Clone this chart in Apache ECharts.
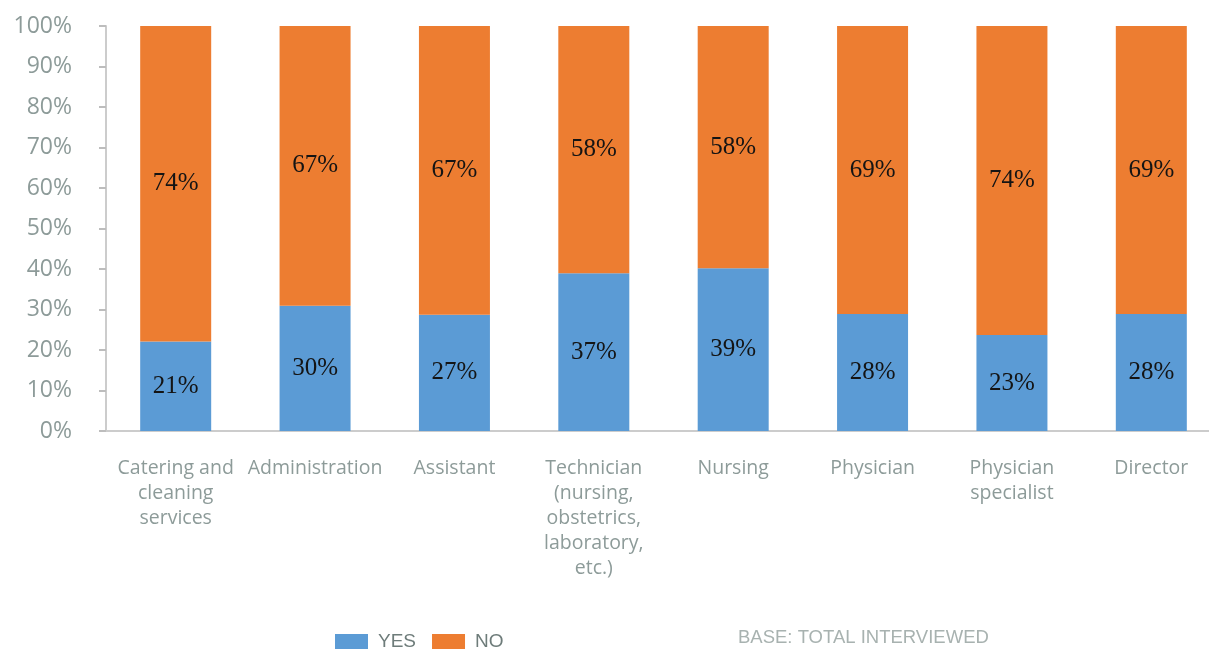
<!DOCTYPE html>
<html>
<head>
<meta charset="utf-8">
<script src="https://cdn.jsdelivr.net/npm/echarts@6/dist/echarts.min.js"></script>
<style>
  html, body { margin: 0; padding: 0; background: #fff; overflow: hidden; }
  /* the last column runs slightly past the right edge of the page */
  #chart { width: 1221px; height: 650px; }
</style>
</head>
<body>
<div id="chart"></div>
<script>
// Professional groups surveyed
const categories = [
  'Catering and\ncleaning\nservices',
  'Administration',
  'Assistant',
  'Technician\n(nursing,\nobstetrics,\nlaboratory,\netc.)',
  'Nursing',
  'Physician',
  'Physician\nspecialist',
  'Director'
];
// Reported shares (%)
const yesValues = [21, 30, 27, 37, 39, 28, 23, 28];
const noValues  = [74, 67, 67, 58, 58, 69, 74, 69];
const yTicks = [0, 10, 20, 30, 40, 50, 60, 70, 80, 90, 100];

// Bars are drawn as a 100% stack: each answer relative to YES + NO
const share = (v, i) => v / (yesValues[i] + noValues[i]) * 100;
const yesData = yesValues.map((v, i) => ({ value: share(v, i), raw: v }));
const noData  = noValues.map((v, i) => ({ value: share(v, i), raw: v }));

const axisGrey = '#8d9b99';
const labelStyle = {
  show: true,
  position: 'inside',
  formatter: p => p.data.raw + '%',
  fontFamily: '"Liberation Serif", "Times New Roman", serif',
  fontSize: 25,
  color: '#141414'
};

const chart = echarts.init(document.getElementById('chart'), null, { renderer: 'canvas' });
chart.setOption({
  animation: false,
  backgroundColor: '#ffffff',
  grid: { left: 106, top: 26, right: 0, bottom: 219, containLabel: false },
  legend: {
    left: 330,
    top: 627,
    itemWidth: 33,
    itemHeight: 15,
    itemGap: 16,
    icon: 'rect',
    data: ['YES', 'NO'],
    textStyle: {
      fontFamily: '"Liberation Sans Narrow", "Liberation Sans", sans-serif',
      fontSize: 19,
      color: '#6e7c7a',
      padding: [0, 0, 0, 5]
    }
  },
  graphic: [{
    type: 'text',
    left: 738,
    top: 628,
    style: {
      text: 'BASE: TOTAL INTERVIEWED',
      fontFamily: '"Liberation Sans Narrow", "Liberation Sans", sans-serif',
      fontSize: 18.5,
      fill: '#a8b2b0'
    }
  }],
  xAxis: {
    type: 'category',
    data: categories,
    axisLine: { show: true, lineStyle: { color: '#cccccc', width: 2 } },
    axisTick: { show: false },
    axisLabel: {
      interval: 0,
      margin: 25,
      fontFamily: '"Open Sans", "Noto Sans", sans-serif',
      fontSize: 19.5,
      lineHeight: 25,
      color: axisGrey,
      align: 'center'
    }
  },
  yAxis: {
    type: 'value',
    min: yTicks[0],
    max: yTicks[yTicks.length - 1],
    interval: 10,
    axisLine: { show: true, lineStyle: { color: '#cccccc', width: 2 } },
    axisTick: { show: true, length: 7, lineStyle: { color: '#bdbdbd', width: 2 } },
    splitLine: { show: false },
    axisLabel: {
      margin: 34,
      formatter: '{value}%',
      fontFamily: '"Open Sans", "Noto Sans", sans-serif',
      fontSize: 23,
      color: axisGrey
    }
  },
  series: [
    {
      name: 'YES',
      type: 'bar',
      stack: 'answer',
      barWidth: 71,
      data: yesData,
      itemStyle: { color: '#5b9bd5' },
      label: labelStyle
    },
    {
      name: 'NO',
      type: 'bar',
      stack: 'answer',
      barWidth: 71,
      data: noData,
      itemStyle: { color: '#ed7d31' },
      label: labelStyle
    }
  ]
});
</script>
</body>
</html>
